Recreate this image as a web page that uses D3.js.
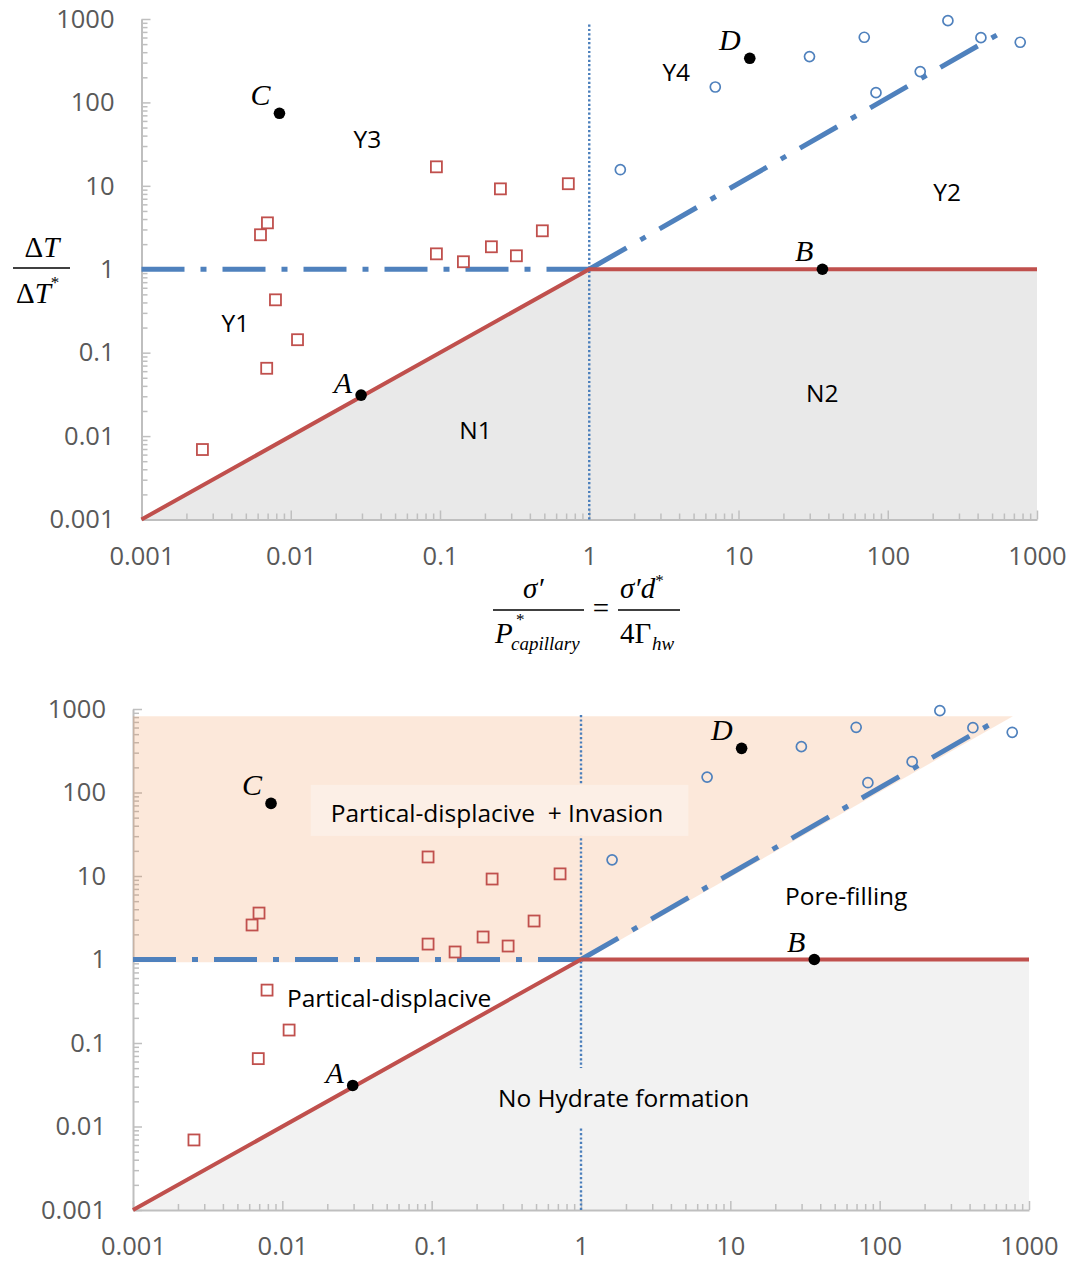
<!DOCTYPE html>
<html>
<head>
<meta charset="utf-8">
<title>Hydrate formation regimes</title>
<script src="https://cdn.jsdelivr.net/npm/d3@7"></script>
<style>
body { margin: 0; background: #fff; }
svg { display: block; font-family: "Open Sans", sans-serif; }
.serif { font-family: "Liberation Serif", "Times New Roman", serif; }
.region { font-size: 24.5px; fill: #000; }
</style>
</head>
<body>
<script>
// tick values for both log axes
var tickValues = [0.001, 0.01, 0.1, 1, 10, 100, 1000];
var tickLabels = ["0.001", "0.01", "0.1", "1", "10", "100", "1000"];

// red squares
var squareX = [0.00256, 0.00627, 0.00698, 0.0079, 0.0069, 0.0111, 0.0946, 0.0946, 0.1435, 0.221, 0.254, 0.325, 0.485, 0.724];
var squareY = [0.0069, 2.59, 3.6, 0.43, 0.065, 0.143, 16.9, 1.53, 1.23, 1.86, 9.2, 1.45, 2.89, 10.6];

// blue circles
var circleX = [1.615, 6.99, 29.9, 69.6, 253, 421, 772, 83.4, 165];
var circleY = [15.6, 153, 354, 604, 955, 597, 526, 131, 234];

// named black points
var pointNames = ["A", "B", "C", "D"];
var pointX = [0.0296, 36.5, 0.0084, 11.9];
var pointY = [0.031, 1, 74, 338];

// boundary lines
var redLineX = [0.001, 1, 1000];
var redLineY = [0.001, 1, 1];
var blueFlatX = [0.001, 1];
var blueFlatY = [1, 1];
var blueDiagX = [1, 556];
var blueDiagY = [1, 665];
var dotLineX = [1, 1];
var dotLineY = [0.001, 900];

// shaded regions
var noHydrateX = [0.001, 1, 1000, 1000];
var noHydrateY = [0.001, 1, 1, 0.001];
var invasionX = [0.001, 1, 780, 0.001];
var invasionY = [0.93, 0.93, 820, 820];

var width = 1073, height = 1262;

var svg = d3.select("body").append("svg")
	.attr("width", width)
	.attr("height", height);

svg.append("rect").attr("width", width).attr("height", height).attr("fill", "#fff");

function pairs(xs, ys) {
	return xs.map(function(v, i) { return [v, ys[i]]; });
}

function drawPanel(cfg) {
	var x = d3.scaleLog().domain([0.001, 1000]).range([cfg.left, cfg.right]);
	var y = d3.scaleLog().domain([0.001, 1000]).range([cfg.bottom, cfg.top]);
	var line = d3.line().x(function(d) { return x(d[0]); }).y(function(d) { return y(d[1]); });
	var g = svg.append("g");

	// grey "no hydrate" area
	g.append("path")
		.attr("d", line(pairs(noHydrateX, noHydrateY)) + "Z")
		.attr("fill", cfg.gray);

	// minor ticks 2..9 in every decade
	var minor = [];
	for (var e = -3; e < 3; e++) {
		for (var m = 2; m < 10; m++) minor.push(+(m * Math.pow(10, e)).toPrecision(3));
	}

	var xMinor = g.append("g")
		.attr("transform", "translate(0," + cfg.bottom + ")")
		.call(d3.axisBottom(x).tickValues(minor).tickSizeInner(-6).tickSizeOuter(0).tickFormat(""));
	var yMinor = g.append("g")
		.attr("transform", "translate(" + cfg.left + ",0)")
		.call(d3.axisLeft(y).tickValues(minor).tickSizeInner(-6).tickSizeOuter(0).tickFormat(""));
	xMinor.select(".domain").remove();
	yMinor.select(".domain").remove();

	var xAxis = g.append("g")
		.attr("transform", "translate(0," + cfg.bottom + ")")
		.call(d3.axisBottom(x).tickValues(tickValues).tickSizeInner(-9).tickSizeOuter(0).tickPadding(27)
			.tickFormat(function(d, i) { return tickLabels[i]; }));
	var yAxis = g.append("g")
		.attr("transform", "translate(" + cfg.left + ",0)")
		.call(d3.axisLeft(y).tickValues(tickValues).tickSizeInner(-9).tickSizeOuter(0).tickPadding(27)
			.tickFormat(function(d, i) { return tickLabels[i]; }));

	[xMinor, yMinor, xAxis, yAxis].forEach(function(a) {
		a.attr("color", "#bfbfbf");
		a.selectAll(".tick line").attr("stroke-width", 1.5);
		a.select(".domain").attr("stroke-width", 2);
		a.selectAll("text").attr("fill", "#595959")
			.attr("font-family", "'Open Sans', sans-serif")
			.attr("font-size", 25.5);
	});

	// orange overlay for the invasion region (bottom panel only)
	if (cfg.invasion) {
		g.append("path")
			.attr("d", line(pairs(invasionX, invasionY)) + "Z")
			.attr("fill", "#ed7d31")
			.attr("fill-opacity", 0.18);
	}

	// dotted line at x = 1
	g.append("path")
		.attr("d", line(pairs(dotLineX, dotLineY)))
		.attr("stroke", "#4a7ebb")
		.attr("stroke-width", 2.4)
		.attr("stroke-dasharray", "2.2,2.2")
		.attr("fill", "none");

	// text boxes that hide the dotted line
	cfg.boxes.forEach(function(b) {
		var t = g.append("text")
			.attr("class", "region")
			.attr("x", x(b.x)).attr("y", y(b.y))
			.attr("text-anchor", "middle")
			.style("white-space", "pre")
			.text(b.text);
		var bb = t.node().getBBox();
		g.insert("rect", function() { return t.node(); })
			.attr("x", bb.x - b.padL).attr("width", bb.width + b.padL + b.padR)
			.attr("y", y(b.y) - b.padT).attr("height", b.padT + b.padB)
			.attr("fill", b.fill);
	});

	// boundary lines
	g.append("path")
		.attr("d", line(pairs(blueFlatX, blueFlatY)))
		.attr("stroke", "#4f81bd").attr("stroke-width", 5)
		.attr("stroke-dasharray", "43,16,6,16").attr("fill", "none");
	g.append("path")
		.attr("d", line(pairs(blueDiagX, blueDiagY)))
		.attr("stroke", "#4f81bd").attr("stroke-width", 5)
		.attr("stroke-dasharray", "43,16,6,16").attr("fill", "none");
	g.append("path")
		.attr("d", line(pairs(redLineX, redLineY)))
		.attr("stroke", "#c0504d").attr("stroke-width", 4)
		.attr("fill", "none");

	// markers
	g.selectAll(".sq").data(pairs(squareX, squareY)).enter()
		.append("rect")
		.attr("x", function(d) { return x(d[0]) - 5.5; })
		.attr("y", function(d) { return y(d[1]) - 5.5; })
		.attr("width", 11).attr("height", 11)
		.attr("fill", "none").attr("stroke", "#c0504d").attr("stroke-width", 1.8);
	g.selectAll(".ci").data(pairs(circleX, circleY)).enter()
		.append("circle")
		.attr("cx", function(d) { return x(d[0]); })
		.attr("cy", function(d) { return y(d[1]); })
		.attr("r", 5)
		.attr("fill", "none").attr("stroke", "#4f81bd").attr("stroke-width", 1.7);

	var named = pointNames.map(function(n, i) { return { name: n, x: pointX[i], y: pointY[i] }; });
	g.selectAll(".pt").data(named).enter()
		.append("circle")
		.attr("cx", function(d) { return x(d.x); })
		.attr("cy", function(d) { return y(d.y); })
		.attr("r", 5.8)
		.attr("fill", "#000");
	g.selectAll(".ptlab").data(named).enter()
		.append("text")
		.attr("class", "serif")
		.attr("x", function(d) { return x(d.x) - 9; })
		.attr("y", function(d) { return y(d.y) - (d.name == "A" ? 2 : 8); })
		.attr("text-anchor", "end")
		.attr("font-size", 30)
		.attr("font-style", "italic")
		.text(function(d) { return d.name; });

	// plain region labels
	cfg.labels.forEach(function(l) {
		g.append("text")
			.attr("class", "region")
			.attr("x", x(l.x)).attr("y", y(l.y))
			.attr("text-anchor", "middle")
			.text(l.text);
	});

	return g;
}

// top panel
var top = drawPanel({
	left: 141.5, right: 1037, top: 19, bottom: 519.5,
	gray: "#e9e9e9",
	invasion: false,
	boxes: [],
	labels: [
		{ text: "Y3", x: 0.0326, y: 28.5 },
		{ text: "Y4", x: 3.83, y: 181 },
		{ text: "Y2", x: 250, y: 6.6 },
		{ text: "Y1", x: 0.00426, y: 0.178 },
		{ text: "N1", x: 0.173, y: 0.0091 },
		{ text: "N2", x: 36.4, y: 0.0259 }
	]
});

// bottom panel
var bottom = drawPanel({
	left: 133, right: 1029, top: 709, bottom: 1210,
	gray: "#f2f2f2",
	invasion: true,
	boxes: [
		{ text: "Partical-displacive  + Invasion", x: 0.274, y: 44.4, padL: 20, padR: 25, padT: 37, padB: 14, fill: "#fcefe6" },
		{ text: "No Hydrate formation", x: 1.93, y: 0.0171, padL: 10, padR: 10, padT: 39, padB: 20, fill: "#f2f2f2" }
	],
	labels: [
		{ text: "Pore-filling", x: 59.7, y: 4.5 },
		{ text: "Partical-displacive", x: 0.0519, y: 0.27 }
	]
});

// y-axis title of the top panel: ΔT / ΔT*
var yt = svg.append("g").attr("class", "serif").attr("font-size", 29);
var num = yt.append("text").attr("x", 42).attr("y", 257).attr("text-anchor", "middle");
num.append("tspan").text("Δ");
num.append("tspan").attr("font-style", "italic").text("T");
yt.append("line").attr("x1", 13).attr("x2", 70).attr("y1", 268).attr("y2", 268)
	.attr("stroke", "#000").attr("stroke-width", 1.3);
var den = yt.append("text").attr("x", 16).attr("y", 303);
den.append("tspan").text("Δ");
den.append("tspan").attr("font-style", "italic").text("T");
den.append("tspan").attr("font-size", 17).attr("dy", -15).text("*");

// x-axis title of the top panel: σ′ / P*capillary = σ′d* / 4Γhw
var xt = svg.append("g").attr("class", "serif").attr("font-size", 29);
xt.append("text").attr("x", 523).attr("y", 598).attr("font-style", "italic").text("σ′");
xt.append("line").attr("x1", 493).attr("x2", 584).attr("y1", 610).attr("y2", 610)
	.attr("stroke", "#000").attr("stroke-width", 1.3);
xt.append("text").attr("x", 495).attr("y", 643).attr("font-style", "italic").text("P");
xt.append("text").attr("x", 516).attr("y", 625).attr("font-size", 17).text("*");
xt.append("text").attr("x", 511).attr("y", 650).attr("font-size", 19).attr("font-style", "italic").text("capillary");
xt.append("text").attr("x", 601).attr("y", 618).attr("text-anchor", "middle").text("=");
xt.append("line").attr("x1", 618).attr("x2", 680).attr("y1", 610).attr("y2", 610)
	.attr("stroke", "#000").attr("stroke-width", 1.3);
var n2 = xt.append("text").attr("x", 620).attr("y", 598).attr("font-style", "italic");
n2.append("tspan").text("σ′d");
n2.append("tspan").attr("font-size", 17).attr("font-style", "normal").attr("dy", -12).text("*");
xt.append("text").attr("x", 620).attr("y", 643).text("4Γ");
xt.append("text").attr("x", 652).attr("y", 650).attr("font-size", 19).attr("font-style", "italic").text("hw");
</script>
</body>
</html>
